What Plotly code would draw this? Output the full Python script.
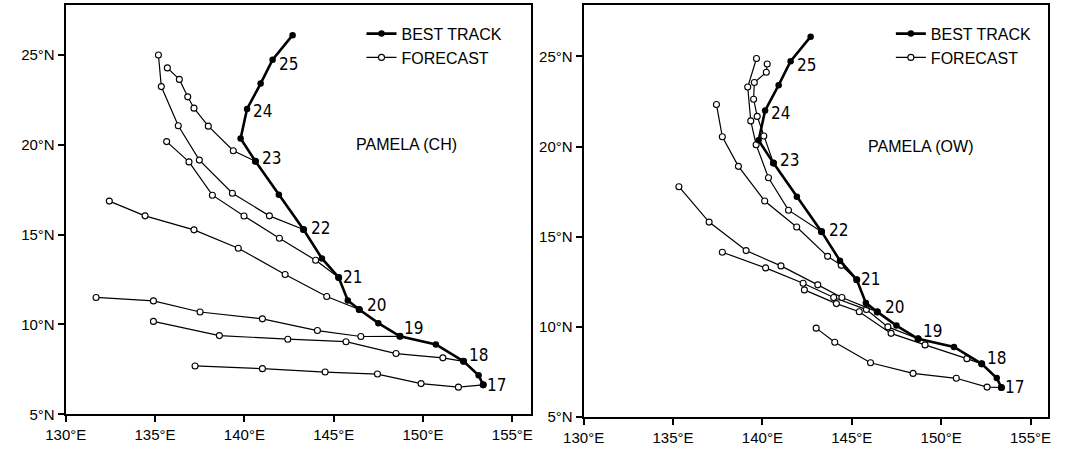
import plotly.graph_objects as go

# ---------------- data ----------------
# best track of PAMELA (12-hourly, 17th 00Z ... 25th 12Z)
bt_lon = [153.37, 153.11, 152.27, 150.72, 148.71, 147.50, 146.43, 145.79, 145.28,
          144.34, 143.31, 141.93, 140.62, 139.79, 140.15, 140.91, 141.58, 142.70]
bt_lat = [6.64, 7.17, 7.95, 8.89, 9.34, 10.07, 10.83, 11.33, 12.61,
          13.67, 15.28, 17.22, 19.08, 20.34, 21.99, 23.40, 24.73, 26.09]
day_labels = ["17", "18", "19", "20", "21", "22", "23", "24", "25"]

# forecasts issued at 00Z of these days
forecast_days = [17, 18, 19, 20, 21, 22, 23]

# CH forecasts (positions after the initial point)
ch_fc_lon = [
    [151.98, 149.89, 147.45, 144.52, 141.01, 137.24],
    [151.11, 148.49, 145.69, 142.43, 138.60, 134.91],
    [146.52, 144.09, 141.01, 137.52, 134.91, 131.70],
    [144.61, 142.28, 139.66, 137.18, 134.44, 132.44],
    [143.99, 141.96, 139.98, 138.21, 136.90, 135.65],
    [141.40, 139.33, 137.48, 136.30, 135.35, 135.19],
    [139.38, 137.98, 137.18, 136.83, 136.36, 135.69],
]
ch_fc_lat = [
    [6.51, 6.71, 7.24, 7.35, 7.54, 7.69],
    [8.14, 8.38, 9.04, 9.18, 9.38, 10.17],
    [9.33, 9.66, 10.31, 10.69, 11.31, 11.50],
    [11.55, 12.78, 14.24, 15.26, 16.04, 16.86],
    [13.57, 14.79, 16.03, 17.19, 19.04, 20.17],
    [16.04, 17.30, 19.14, 21.05, 23.23, 24.99],
    [19.66, 21.03, 22.03, 22.66, 23.63, 24.27],
]

# OW forecasts (positions after the initial point)
ow_fc_lon = [
    [152.57, 150.85, 148.43, 146.05, 144.05, 143.01],
    [151.44, 149.10, 147.20, 145.42, 144.14, 142.35],
    [147.02, 145.82, 143.99, 142.28, 140.18, 137.76],
    [144.45, 143.10, 141.04, 139.09, 137.02, 135.33],
    [144.41, 143.65, 141.92, 140.13, 138.66, 137.76, 137.43],
    [141.46, 140.34, 139.65, 139.35, 139.18, 139.67],
    [140.08, 139.71, 139.51, 139.55, 140.22, 140.27],
]
ow_fc_lat = [
    [6.66, 7.15, 7.42, 8.01, 9.15, 9.93],
    [8.24, 9.00, 9.64, 10.84, 11.29, 12.05],
    [10.00, 10.96, 11.63, 12.42, 13.27, 14.14],
    [11.63, 12.33, 13.38, 14.23, 15.81, 17.77],
    [13.41, 13.91, 15.54, 16.98, 18.90, 20.54, 22.33],
    [16.47, 18.27, 20.10, 21.42, 23.30, 24.88],
    [20.58, 21.67, 22.62, 23.55, 24.12, 24.57],
]

x_ticks = [130, 135, 140, 145, 150, 155]
x_ticktext = ["130°E", "135°E", "140°E", "145°E", "150°E", "155°E"]
y_ticks = [5, 10, 15, 20, 25]
y_ticktext = ["5°N", "10°N", "15°N", "20°N", "25°N"]

# ---------------- styling ----------------
FONT = "Liberation Sans, Arial, Helvetica, sans-serif"
NARROW = "Liberation Sans Narrow, Arial Narrow, DejaVu Sans Condensed, Liberation Sans, sans-serif"
label_xshift = [13, 15, 14, 17, 14, 17, 16, 15, 16]
label_yshift = [0, 6, 8, 5, 1, 2, 3, -2, -4]

fig = go.Figure()


def add_panel(xa, ya, fc_lon, fc_lat, legend_name, title, title_x, title_y):
    for k, day in enumerate(forecast_days):
        i = 2 * (day - 17)
        fig.add_trace(go.Scatter(
            x=[bt_lon[i]] + fc_lon[k], y=[bt_lat[i]] + fc_lat[k],
            xaxis=xa, yaxis=ya, mode="lines+markers",
            line=dict(color="black", width=1.2),
            marker=dict(symbol="circle", size=6, color="white",
                        line=dict(color="black", width=1.1)),
            name="FORECAST", legendgroup="fc" + legend_name, legend=legend_name,
            showlegend=(k == 0), hoverinfo="skip"))
    fig.add_trace(go.Scatter(
        x=bt_lon, y=bt_lat, xaxis=xa, yaxis=ya, mode="lines+markers",
        line=dict(color="black", width=2.6),
        marker=dict(symbol="circle", size=6.5, color="black"),
        name="BEST TRACK", legend=legend_name, legendrank=1, hoverinfo="skip"))
    for j, lab in enumerate(day_labels):
        fig.add_annotation(x=bt_lon[2 * j], y=bt_lat[2 * j], xref=xa, yref=ya,
                           text=lab, showarrow=False, xanchor="center", yanchor="middle",
                           xshift=label_xshift[j], yshift=label_yshift[j],
                           font=dict(family=NARROW, size=17, color="black"))
    fig.add_annotation(x=title_x, y=title_y, xref=xa, yref=ya, text=title,
                       showarrow=False, xanchor="center", yanchor="middle",
                       font=dict(family=FONT, size=16, color="black"))


add_panel("x", "y", ch_fc_lon, ch_fc_lat, "legend", "PAMELA (CH)", 149.05, 20.0)
add_panel("x2", "y2", ow_fc_lon, ow_fc_lat, "legend2", "PAMELA (OW)", 148.87, 20.0)

W, H = 1068, 457
axis_common = dict(showgrid=False, zeroline=False, showline=True, mirror=True,
                   linecolor="black", linewidth=2, ticks="outside", ticklen=6,
                   tickwidth=1.5, tickcolor="black",
                   tickfont=dict(family=FONT, size=15, color="black"))

legend_common = dict(xanchor="left", yanchor="top", bgcolor="rgba(0,0,0,0)",
                     font=dict(family=FONT, size=16, color="black"),
                     itemwidth=30, tracegroupgap=0, traceorder="normal")

fig.update_layout(
    width=W, height=H, margin=dict(l=0, r=0, t=0, b=0),
    paper_bgcolor="white", plot_bgcolor="white",
    font=dict(family=FONT, color="black"),
    xaxis=dict(domain=[45.7 / W, 521.7 / W], range=[130, 156.07],
               tickvals=x_ticks, ticktext=x_ticktext, anchor="y", **axis_common),
    yaxis=dict(domain=[(H - 421.7) / H, (H - 4.7) / H], range=[5, 27.79],
               tickvals=y_ticks, ticktext=y_ticktext, anchor="x", **axis_common),
    xaxis2=dict(domain=[575 / W, 1050 / W], range=[130, 156.0],
                tickvals=x_ticks, ticktext=x_ticktext, anchor="y2", **axis_common),
    yaxis2=dict(domain=[(H - 424.5) / H, (H - 5) / H], range=[5, 27.85],
                tickvals=y_ticks, ticktext=y_ticktext, anchor="x2", **axis_common),
    legend=dict(x=348 / W, y=1 - 17 / H, **legend_common),
    legend2=dict(x=889 / W, y=1 - 17 / H, **legend_common),
    showlegend=True,
)

fig.write_html("out.html")
